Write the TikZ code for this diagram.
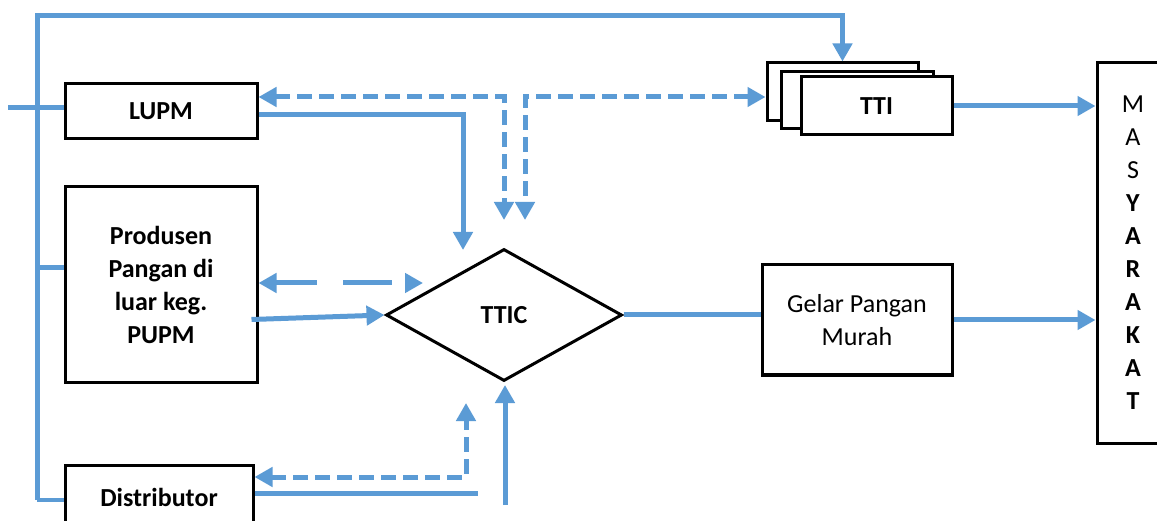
\documentclass[tikz,border=0pt]{standalone}
\usepackage{fontspec}
\setmainfont{Carlito}
\usetikzlibrary{shapes.geometric,arrows.meta,calc}
\definecolor{lblue}{HTML}{5B9BD5}
\begin{document}
\begin{tikzpicture}[x=1pt,y=-1pt,
  box/.style={draw=black,line width=3pt,fill=white,inner sep=0pt,align=center,
    font=\fontsize{26}{33}\selectfont\bfseries},
  plainbox/.style={box,font=\fontsize{26}{33}\selectfont},
  conn/.style={draw=lblue,line width=5pt},
  thinconn/.style={draw=lblue,line width=3.8pt},
  tipend/.style={-{Triangle[length=18pt,width=19pt]}},
  tipboth/.style={{Triangle[length=18pt,width=19pt]}-{Triangle[length=18pt,width=19pt]}},
  shortdash/.style={dash pattern=on 15pt off 7pt},
  longdash/.style={dash pattern=on 42pt off 26pt on 49pt off 30pt}
]
\useasboundingbox (0,0) rectangle (1157,521);
\clip (0,0) rectangle (1157,521);
\fill[white] (0,0) rectangle (1157,521);

% nodes
\node[box,minimum width=192pt,minimum height=55pt] (lupm) at (161,111.5) {LUPM};
\node[box,minimum width=192pt,minimum height=195pt] (prod) at (161,284.5) {Produsen\\Pangan di\\luar keg.\\PUPM};
\node[box,minimum width=188pt,minimum height=64pt] (dist) at (159,497) {Distributor};
\node[box,diamond,aspect=1.79,minimum width=236pt,minimum height=132pt] (ttic) at (504,315) {TTIC};
\node[plainbox,minimum width=190pt,minimum height=110pt] (gpm) at (857,320) {Gelar Pangan\\Murah};
\node[box,minimum width=151pt,minimum height=58pt] (tti3) at (842.5,92) {};
\node[box,minimum width=152pt,minimum height=57pt] (tti2) at (857,100.5) {};
\node[box,minimum width=151pt,minimum height=58pt] (tti1) at (876.5,106) {TTI};
\node[box,minimum width=66pt,minimum height=380pt] (masy) at (1130,253) {};
\node[align=center,inner sep=0pt,font=\fontsize{26}{33}\selectfont] (masytxt) at (1133,253)
  {M\\A\\S\\\textbf{Y}\\\textbf{A}\\\textbf{R}\\\textbf{A}\\\textbf{K}\\\textbf{A}\\\textbf{T}};

% coordinates
\coordinate (tl) at (37,16);
\coordinate (bl) at (37,500);
\coordinate (inl) at (8,108);
\coordinate (pl) at (37,268);
\coordinate (j1) at (504,97);
\coordinate (j2) at (525,97);
\coordinate (d1) at (504,220);
\coordinate (d2) at (525,220);
\coordinate (l1) at (463,250);
\coordinate (l0) at (257,115);
\coordinate (pd) at (423,283);
\coordinate (dd) at (466,403);
\coordinate (dc) at (466,477);
\coordinate (ds) at (478,493);
\coordinate (b1) at (505,505);
\coordinate (b2) at (505,385);

% connectors
\draw[conn,tipend] (bl) -- (tl) -| (tti3.north);
\draw[thinconn] (bl) -- (bl -| dist.west);
\draw[conn] (inl) -- (inl -| lupm.west);
\draw[conn] (pl) -- (pl -| prod.west);
\draw[conn,shortdash,tipboth] (j1 -| lupm.east) -| (d1);
\draw[conn,shortdash,tipboth] (j2 -| tti3.west) -| (d2);
\draw[conn,tipend] (l0 -| lupm.east) -| (l1);
\draw[conn,longdash,tipboth] (pd -| prod.east) -- (pd);
\draw[conn,tipend] ($(prod.east)+(-7,35)$) -- (ttic.west);
\draw[conn] (ttic.east) -- (ttic.east -| gpm.west);
\draw[conn,tipend] (gpm.east) -- (gpm.east -| masy.west);
\draw[conn,tipend] (tti1.east) -- (tti1.east -| masy.west);
\draw[conn,shortdash,tipboth] (dc -| dist.east) -| (dd);
\draw[conn] (ds -| dist.east) -- (ds);
\draw[conn,tipend] (b1) -- (b2);
\end{tikzpicture}
\end{document}
